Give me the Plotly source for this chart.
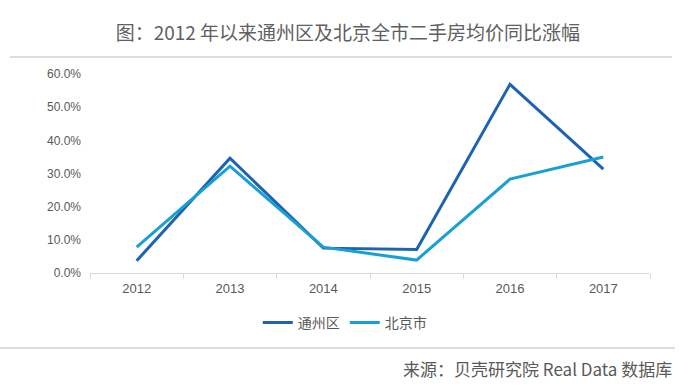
import plotly.graph_objects as go

years = ["2012", "2013", "2014", "2015", "2016", "2017"]
tongzhou = [3.7, 34.6, 7.5, 7.1, 56.9, 31.3]
beijing = [7.8, 32.2, 7.8, 3.9, 28.3, 35.0]
series_names = ["通州区", "北京市"]
colors = ["#1E62B2", "#18A0D6"]

title_text = "图：2012 年以来通州区及北京全市二手房均价同比涨幅"
source_text = "来源：贝壳研究院 Real Data 数据库"

cjk = "Noto Sans CJK SC"
latin = "Liberation Sans"

fig = go.Figure()
for name, vals, c in zip(series_names, [tongzhou, beijing], colors):
    fig.add_trace(go.Scatter(x=years, y=vals, mode="lines", name=name,
                             line=dict(color=c, width=3)))

fig.update_layout(
    width=700, height=389,
    margin=dict(l=90, r=50, t=74, b=116, autoexpand=False),
    paper_bgcolor="white", plot_bgcolor="white",
    showlegend=True,
    legend=dict(orientation="h", x=0.455, y=-0.251, xanchor="center", yanchor="middle",
                font=dict(family=cjk, size=14, color="#595959"),
                itemwidth=30, tracegroupgap=0),
    title=dict(text=title_text, x=0.497, xref="container", y=(389 - 33) / 389,
               yref="container", xanchor="center", yanchor="middle",
               font=dict(family=cjk, size=19, color="#606060")),
    xaxis=dict(type="category", range=[-0.5, 5.5], showgrid=False, showline=True,
               linecolor="#D9D9D9", linewidth=1, ticks="outside", tickson="boundaries",
               ticklen=5, tickcolor="#D9D9D9", ticklabelstandoff=3,
               tickfont=dict(family=latin, size=13, color="#595959"),
               zeroline=False),
    yaxis=dict(range=[0, 60], dtick=10, tickformat=".1f", ticksuffix="%",
               showgrid=False, showline=False, zeroline=False, ticklabelstandoff=8,
               tickfont=dict(family=latin, size=12, color="#595959")),
    annotations=[dict(text=source_text, xref="paper", yref="paper",
                      x=(674 - 90) / 560, y=(273 - 368) / 199,
                      xanchor="right", yanchor="middle", showarrow=False,
                      font=dict(family=cjk, size=17, color="#595959"))],
    shapes=[
        dict(type="line", xref="paper", yref="paper",
             x0=(10 - 90) / 560, x1=(672 - 90) / 560,
             y0=(273 - 57) / 199, y1=(273 - 57) / 199,
             line=dict(color="#D0D0D0", width=1.5)),
        dict(type="line", xref="paper", yref="paper",
             x0=(0 - 90) / 560, x1=(675 - 90) / 560,
             y0=(273 - 348) / 199, y1=(273 - 348) / 199,
             line=dict(color="#D0D0D0", width=1.5)),
    ],
)

fig.write_html("out.html", config={"displayModeBar": False},
               post_script="document.body.style.margin='0';document.body.style.padding='0';")
